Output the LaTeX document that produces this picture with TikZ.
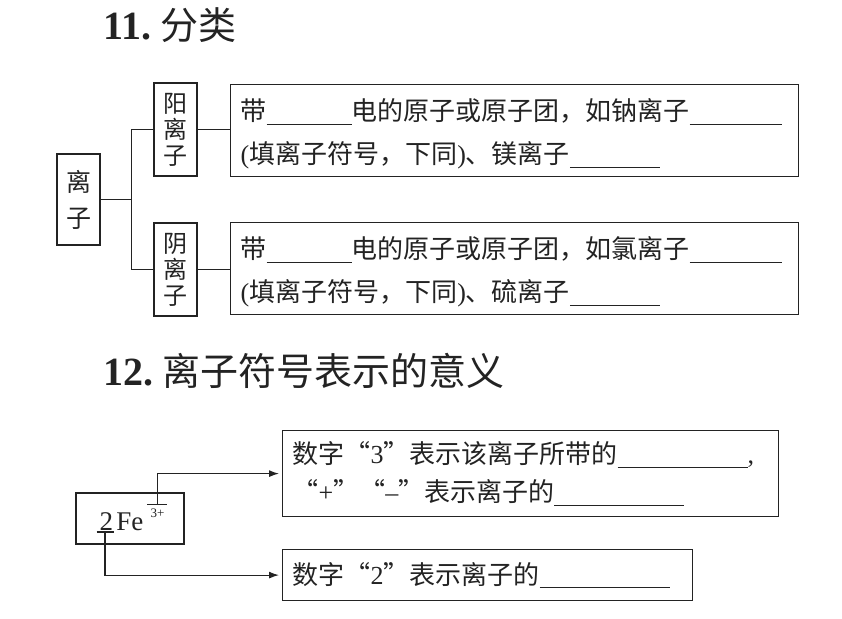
\documentclass[tikz,border=0pt]{standalone}
\usepackage{fontspec}
\setmainfont{Liberation Serif}
\newfontfamily\cjk{Noto Sans CJK SC}
\usetikzlibrary{
  arrows.meta,
  positioning,
  calc
}
\definecolor{inkgray}{RGB}{35,35,35}
\newcommand{\answerline}[1]{\rule[-4pt]{#1pt}{0.8pt}}
\newcommand{\rmnum}[1]{{\rmfamily #1}}

\begin{document}
\begin{tikzpicture}[x=1pt, y=-1pt, line width=1.2pt, color=inkgray,
  frame/.style={draw, inner sep=0pt},
  textbox/.style={frame, anchor=north west, align=left, inner xsep=10pt,
    font=\cjk\fontsize{26pt}{43pt}\selectfont},
  tag/.style={frame, align=center, font=\cjk\fontsize{24pt}{26pt}\selectfont},
  heading/.style={anchor=base west, inner sep=0pt},
  link/.style={-{Latex[length=10pt,width=7pt]}, shorten >=3pt}]
  \useasboundingbox (0,0) rectangle (842,618);

  % section 11
  \node[heading] (sec11) at (103,40)
    {\fontsize{40pt}{40pt}\selectfont\bfseries 11.\hspace{9pt}{\cjk\mdseries\fontsize{38pt}{38pt}\selectfont 分类}};

  \node[tag, minimum width=43, minimum height=91,
    font=\cjk\fontsize{25pt}{36pt}\selectfont] (ion) at (78.5,199.5) {离\\子};
  \node[tag, minimum width=43, minimum height=93] (cation) at (175.5,129.5) {阳\\离\\子};
  \node[tag, minimum width=43, minimum height=93] (anion) at (175.5,269.5) {阴\\离\\子};

  \node[textbox, minimum width=568, text width=548, minimum height=92] (info1) at (230,84)
    {\rule{0pt}{29pt}带\answerline{85}电的原子或原子团，如钠离子\answerline{92}\\
     \rmnum{(}填离子符号，下同\rmnum{)}、镁离子\answerline{90}};
  \node[textbox, minimum width=568, text width=548, minimum height=92] (info2) at (230,222)
    {\rule{0pt}{29pt}带\answerline{85}电的原子或原子团，如氯离子\answerline{92}\\
     \rmnum{(}填离子符号，下同\rmnum{)}、硫离子\answerline{90}};

  \draw (ion.east) -- ++(31,0) coordinate (fork);
  \draw (cation.west) -| (fork) |- (anion.west);
  \draw (cation.east) -- (cation.east -| info1.west);
  \draw (anion.east) -- (anion.east -| info2.west);

  % section 12
  \node[heading] (sec12) at (103,385)
    {\fontsize{40pt}{40pt}\selectfont\bfseries 12.\hspace{9pt}{\cjk\mdseries\fontsize{38pt}{38pt}\selectfont 离子符号表示的意义}};

  \node[frame, minimum width=108, minimum height=51] (formula) at (130,518.5) {};
  \node[heading, font=\fontsize{27pt}{27pt}\selectfont] (coef) at (99,530) {2};
  \node[heading, font=\fontsize{27pt}{27pt}\selectfont] (iron) at ($(coef.base east)+(2,0)$) {Fe};
  \node[heading, font=\fontsize{13pt}{13pt}\selectfont] (charge) at ($(iron.base east)+(6,-13)$) {3+};

  \node[textbox, minimum width=496, text width=476, minimum height=86,
    font=\cjk\fontsize{26pt}{38pt}\selectfont] (sig1) at (282,430)
    {数字“\rmnum{3}”表示该离子所带的\answerline{130}\rmnum{,}\\
     “\rmnum{+}”“\rmnum{–}”表示离子的\answerline{130}};
  \node[textbox, minimum width=410, text width=390, minimum height=51] (sig2) at (282,549)
    {数字“\rmnum{2}”表示离子的\answerline{130}};

  \coordinate (mark2) at (105,532);
  \coordinate (mark3) at ($(charge.north)+(0,-3)$);
  \draw ([xshift=-8.5pt]mark2) -- ([xshift=8.5pt]mark2);
  \draw ([xshift=-10pt]mark3) -- ([xshift=10pt]mark3);
  \draw[link] (mark3) |- (sig1.west);
  \draw[link] (mark2) |- (sig2.west);
\end{tikzpicture}
\end{document}
